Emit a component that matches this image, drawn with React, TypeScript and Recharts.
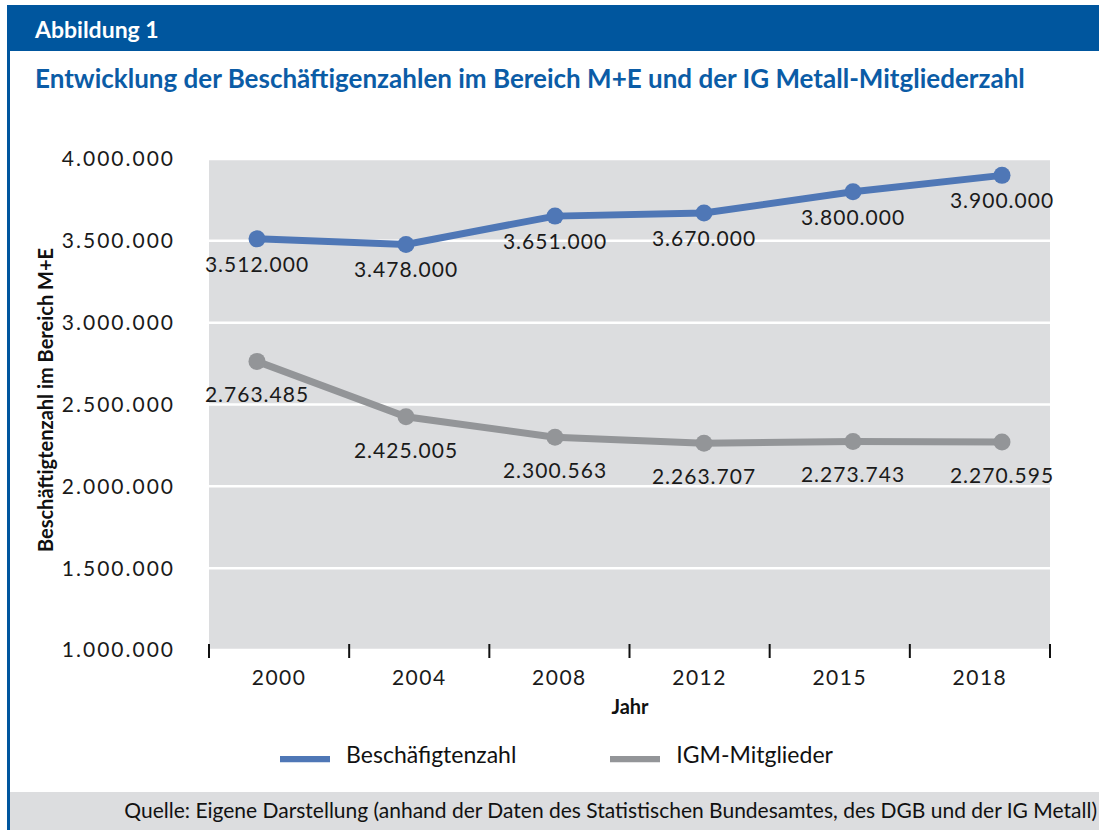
import React from 'react';
import { LineChart, Line, XAxis, YAxis, CartesianGrid, Legend, LabelList } from 'recharts';

const years = ['2000', '2004', '2008', '2012', '2015', '2018'];
const beschaeftigte = [3512000, 3478000, 3651000, 3670000, 3800000, 3900000];
const igmMitglieder = [2763485, 2425005, 2300563, 2263707, 2273743, 2270595];
const yTicks = [1000000, 1500000, 2000000, 2500000, 3000000, 3500000, 4000000];

const data = years.map((year, i) => ({
  year,
  besch: beschaeftigte[i],
  igm: igmMitglieder[i],
}));

const BLUE_HEAD = '#00569e';
const BLUE_TITLE = '#0b5ca6';
const LINE_BLUE = '#4f77b6';
const LINE_GRAY = '#939598';
const PLOT_BG = '#dcdddf';
const FONT = 'Lato, "Open Sans", sans-serif';

const fmt = (v: number | string) => String(v).replace(/\B(?=(\d{3})+(?!\d))/g, '.');

const XTick = (props: any) => {
  const { x, y, payload, index, visibleTicksCount, width } = props;
  const count = Number(visibleTicksCount) || years.length;
  const w = Number(width) || 841;
  const half = w / count / 2;
  return (
    <g>
      <line x1={x - half} x2={x - half} y1={y - 6} y2={y + 8} stroke="#111" strokeWidth={2} />
      {index === count - 1 && (
        <line x1={x + half} x2={x + half} y1={y - 6} y2={y + 8} stroke="#111" strokeWidth={2} />
      )}
      <text
        x={x}
        y={y}
        dy={35}
        textAnchor="middle"
        fill="#1a1a1a"
        style={{ fontSize: 21, fontFamily: FONT, letterSpacing: 1.5 }}
      >
        {payload.value}
      </text>
    </g>
  );
};

const legendFormatter = (value: string, _entry: any, index: number) => (
  <span
    style={{
      color: '#111',
      fontSize: 23,
      fontFamily: FONT,
      marginLeft: 12,
      marginRight: index === 0 ? 84 : 0,
    }}
  >
    {value}
  </span>
);

export default function App() {
  return (
    <div
      style={{
        position: 'absolute',
        left: 0,
        top: 0,
        width: 1099,
        height: 830,
        background: '#fff',
        overflow: 'hidden',
        fontFamily: FONT,
      }}
    >
      <div style={{ position: 'absolute', left: 7, top: 5, width: 1092, height: 46, background: BLUE_HEAD }} />
      <div style={{ position: 'absolute', left: 7, top: 5, width: 2.5, height: 825, background: BLUE_HEAD }} />
      <div
        style={{
          position: 'absolute',
          left: 35,
          top: 5,
          height: 46,
          lineHeight: '48px',
          color: '#fff',
          fontWeight: 700,
          fontSize: 23,
        }}
      >
        Abbildung 1
      </div>
      <div
        style={{
          position: 'absolute',
          left: 35,
          top: 61,
          lineHeight: '34px',
          color: BLUE_TITLE,
          fontWeight: 700,
          fontSize: 26,
          whiteSpace: 'nowrap',
        }}
      >
        Entwicklung der Beschäftigenzahlen im Bereich M+E und der IG Metall-Mitgliederzahl
      </div>
      <div style={{ position: 'absolute', left: 9.5, top: 792, width: 1090, height: 38, background: PLOT_BG }} />
      <div
        style={{
          position: 'absolute',
          right: 2,
          top: 792,
          lineHeight: '36px',
          fontSize: 21,
          color: '#111',
          whiteSpace: 'nowrap',
        }}
      >
        Quelle: Eigene Darstellung (anhand der Daten des Statistischen Bundesamtes, des DGB und der IG Metall)
      </div>
      <div
        style={{
          position: 'absolute',
          left: 45,
          top: 400,
          transform: 'translate(-50%, -50%) rotate(-90deg)',
          whiteSpace: 'nowrap',
          fontWeight: 700,
          fontSize: 20,
          color: '#111',
        }}
      >
        Beschäftigtenzahl im Bereich M+E
      </div>
      <div
        style={{
          position: 'absolute',
          left: 630,
          top: 706,
          transform: 'translate(-50%, -50%)',
          fontWeight: 700,
          fontSize: 20,
          color: '#111',
        }}
      >
        Jahr
      </div>

      <div style={{ position: 'absolute', left: 0, top: 0 }}>
        <LineChart width={1099} height={830} data={data} margin={{ top: 159, right: 49, bottom: 140, left: 0 }}>
          <CartesianGrid vertical={false} horizontal={true} fill={PLOT_BG} stroke="#fff" strokeWidth={2.5} />
          <XAxis
            xAxisId="cat"
            dataKey="year"
            type="category"
            scale="band"
            height={40}
            axisLine={false}
            tickLine={false}
            tickSize={0}
            tickMargin={0}
            interval={0}
            tick={<XTick />}
          />
          <XAxis
            xAxisId="pts"
            dataKey="year"
            type="category"
            scale="point"
            padding={{ left: 48, right: 48 }}
            hide
          />
          <YAxis
            type="number"
            domain={[1000000, 4000000]}
            ticks={yTicks}
            width={209}
            axisLine={false}
            tickLine={false}
            tickSize={0}
            tickMargin={34}
            tickFormatter={fmt}
            tick={{ fontSize: 21, fill: '#1a1a1a', fontFamily: FONT, letterSpacing: 2 } as any}
            interval={0}
          />
          <Legend
            verticalAlign="middle"
            align="center"
            layout="horizontal"
            iconSize={50}
            formatter={legendFormatter as any}
            wrapperStyle={{ top: 734, left: 12, width: 1099 }}
          />
          <Line
            xAxisId="pts"
            name="Beschäfigtenzahl"
            dataKey="besch"
            stroke={LINE_BLUE}
            strokeWidth={7}
            dot={{ r: 8.5, fill: LINE_BLUE, stroke: LINE_BLUE, strokeWidth: 0 }}
            legendType="plainline"
            isAnimationActive={false}
          >
            <LabelList
              dataKey="besch"
              position="bottom"
              offset={18}
              formatter={fmt as any}
              style={{ fontSize: 21, fill: '#1a1a1a', fontFamily: FONT, letterSpacing: 1 }}
            />
          </Line>
          <Line
            xAxisId="pts"
            name="IGM-Mitglieder"
            dataKey="igm"
            stroke={LINE_GRAY}
            strokeWidth={7}
            dot={{ r: 8.5, fill: LINE_GRAY, stroke: LINE_GRAY, strokeWidth: 0 }}
            legendType="plainline"
            isAnimationActive={false}
          >
            <LabelList
              dataKey="igm"
              position="bottom"
              offset={26}
              formatter={fmt as any}
              style={{ fontSize: 21, fill: '#1a1a1a', fontFamily: FONT, letterSpacing: 1 }}
            />
          </Line>
        </LineChart>
      </div>
    </div>
  );
}
